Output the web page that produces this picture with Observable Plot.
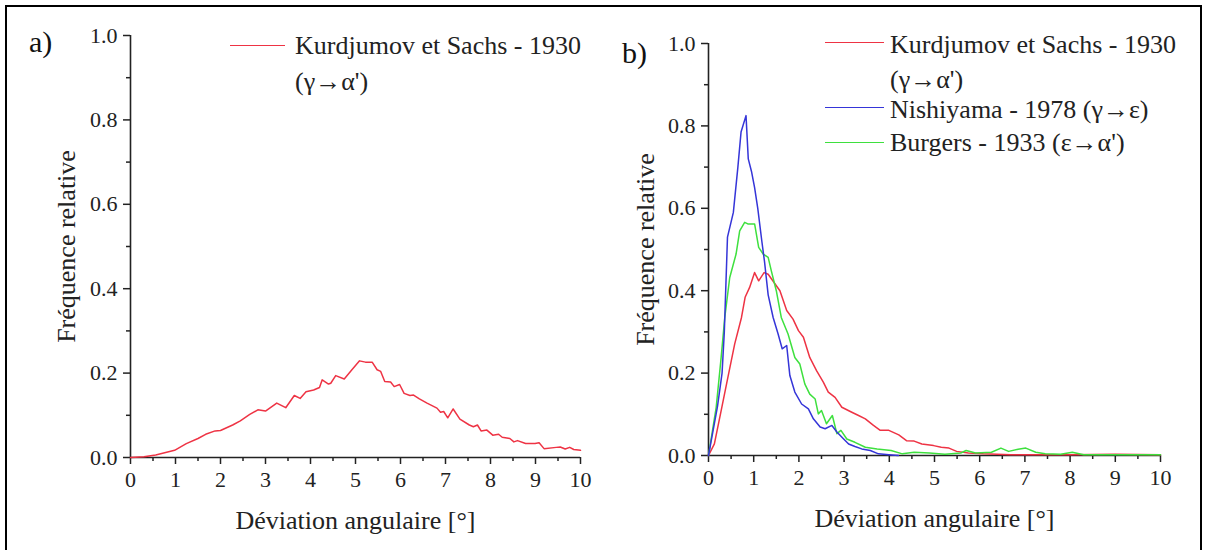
<!DOCTYPE html>
<html><head><meta charset="utf-8">
<script src="https://cdn.jsdelivr.net/npm/d3@7"></script>
<script src="https://cdn.jsdelivr.net/npm/@observablehq/plot@0.6"></script>
<style>
html,body{margin:0;padding:0;background:#fff;}
#wrap{position:relative;width:1210px;height:550px;overflow:hidden;font-family:"Liberation Serif",Tinos,"Times New Roman",Times,"DejaVu Serif",serif;color:#222;}
#frame{position:absolute;left:5px;top:5px;width:1197px;height:600px;border:2.5px solid #000;box-sizing:border-box;}
.panel{position:absolute;top:0;}
.txt{position:absolute;white-space:nowrap;line-height:1;font-size:26px;color:#222;}
.tag{position:absolute;white-space:nowrap;line-height:1;font-size:30px;color:#111;}
.sw{position:absolute;height:0;border-top:1.6px solid;}
</style></head>
<body>
<div id="wrap"><div id="frame"></div></div>
<script>
// ---- data ----
const ksA_x = [0,0.3,0.56,0.98,1.24,1.5,1.67,1.88,2.0,2.27,2.44,2.65,2.83,3.0,3.25,3.45,3.64,3.77,3.9,4.07,4.2,4.26,4.4,4.45,4.56,4.75,4.92,5.09,5.22,5.37,5.48,5.56,5.65,5.78,5.86,5.98,6.08,6.21,6.29,6.42,6.59,6.81,6.89,6.96,7.05,7.17,7.32,7.53,7.62,7.71,7.79,7.92,8.05,8.18,8.26,8.43,8.52,8.6,8.78,8.99,9.08,9.19,9.46,9.55,9.66,9.76,9.85,10];
const ksA_y = [0,0.002,0.006,0.017,0.033,0.045,0.055,0.063,0.064,0.077,0.087,0.102,0.113,0.110,0.129,0.118,0.147,0.140,0.156,0.160,0.166,0.184,0.174,0.176,0.194,0.186,0.208,0.229,0.226,0.226,0.208,0.204,0.180,0.179,0.168,0.173,0.152,0.147,0.148,0.139,0.129,0.117,0.107,0.109,0.094,0.115,0.091,0.077,0.073,0.077,0.063,0.065,0.053,0.055,0.048,0.045,0.037,0.040,0.033,0.033,0.035,0.021,0.024,0.025,0.020,0.024,0.019,0.017];

const ksB_x = [0,0.13,0.28,0.43,0.58,0.73,0.81,0.91,1.02,1.11,1.23,1.32,1.45,1.58,1.73,1.87,1.99,2.1,2.24,2.39,2.54,2.65,2.8,2.95,3.17,3.32,3.47,3.65,3.8,3.99,4.21,4.38,4.55,4.72,4.98,5.15,5.32,5.49,5.75,6.08,6.68,8.0,9.0,10];
const ksB_y = [0,0.028,0.109,0.19,0.271,0.335,0.384,0.408,0.444,0.424,0.444,0.44,0.42,0.40,0.352,0.331,0.303,0.287,0.238,0.206,0.178,0.154,0.141,0.117,0.105,0.097,0.089,0.073,0.061,0.061,0.050,0.036,0.035,0.028,0.024,0.020,0.018,0.010,0.006,0.004,0.002,0.002,0.003,0.002];

const nishi_x = [0,0.2,0.3,0.35,0.42,0.55,0.65,0.72,0.83,0.88,0.95,1.02,1.09,1.18,1.24,1.32,1.43,1.54,1.63,1.73,1.8,1.91,2.06,2.21,2.32,2.47,2.58,2.73,2.84,2.99,3.1,3.24,3.39,3.58,3.76,3.99,4.2];
const nishi_y = [0,0.12,0.2,0.3,0.53,0.59,0.70,0.785,0.825,0.72,0.69,0.65,0.60,0.52,0.47,0.39,0.335,0.295,0.259,0.267,0.194,0.154,0.125,0.113,0.089,0.069,0.065,0.073,0.057,0.040,0.028,0.022,0.016,0.012,0.004,0.002,0];

const burg_x = [0,0.17,0.28,0.36,0.47,0.61,0.69,0.8,0.87,1.02,1.11,1.21,1.32,1.39,1.5,1.61,1.76,1.91,2.02,2.13,2.24,2.36,2.43,2.5,2.61,2.74,2.84,2.93,3.06,3.24,3.47,3.73,4.04,4.29,4.55,4.89,5.23,5.58,5.7,5.91,6.26,6.47,6.64,6.85,7.02,7.24,7.45,7.79,8.05,8.3,8.82,10];
const burg_y = [0,0.117,0.238,0.335,0.432,0.489,0.545,0.566,0.562,0.562,0.505,0.489,0.481,0.448,0.40,0.335,0.295,0.238,0.222,0.174,0.149,0.137,0.101,0.109,0.077,0.097,0.053,0.061,0.040,0.032,0.020,0.016,0.012,0.004,0.008,0.006,0.003,0.006,0.012,0.006,0.008,0.018,0.010,0.015,0.018,0.008,0.004,0.003,0.008,0.002,0.002,0.002];

const xTicks = [0,1,2,3,4,5,6,7,8,9,10];
const xMinor = [0.5,1.5,2.5,3.5,4.5,5.5,6.5,7.5,8.5,9.5];
const yTicks = [0,0.2,0.4,0.6,0.8,1.0];
const yMinor = [0.1,0.3,0.5,0.7,0.9];
const xTitle = "Déviation angulaire [°]";
const yTitle = "Fréquence relative";
const seriesNames = ["Kurdjumov et Sachs - 1930", "Nishiyama - 1978 (γ→ε)", "Burgers - 1933 (ε→α')"];
const ksSub = "(γ→α')";
const colors = ["#ee3344", "#3535d8", "#3ee03e"];

const FONT = '"Liberation Serif",Tinos,"Times New Roman",Times,"DejaVu Serif",serif';
const toRows = (xs, ys, s) => xs.map((x, i) => ({x, y: ys[i], s}));

function panel(series, m) {
  return Plot.plot({
    width: 605, height: 550,
    marginLeft: m.l, marginRight: m.r, marginTop: m.t, marginBottom: m.b,
    x: {domain: [0, 10]},
    y: {domain: [0, 1]},
    style: {fontFamily: FONT, color: "#222", background: "transparent", overflow: "visible"},
    marks: [
      Plot.axisX({ticks: xTicks, tickSize: 7, tickPadding: 7, tickFormat: d => String(d), fontSize: 22, fontFamily: FONT, label: null, strokeWidth: 1.5, stroke: "#222"}),
      Plot.axisX({ticks: xMinor, tickSize: 4, tickFormat: () => "", label: null, strokeWidth: 1.5, stroke: "#222"}),
      Plot.axisY({ticks: yTicks, tickSize: 7, tickPadding: 6, tickFormat: d3.format(".1f"), fontSize: 22, fontFamily: FONT, label: null, strokeWidth: 1.5, stroke: "#222"}),
      Plot.axisY({ticks: yMinor, tickSize: 4, tickFormat: () => "", label: null, strokeWidth: 1.5, stroke: "#222"}),
      Plot.ruleX([0], {stroke: "#222", strokeWidth: 1.6}),
      Plot.ruleY([0], {stroke: "#222", strokeWidth: 1.6}),
      ...series.map(sr => Plot.line(sr.rows, {x: "x", y: "y", stroke: sr.color, strokeWidth: 1.5})),
      Plot.text([yTitle], {frameAnchor: "left", textAnchor: "middle", lineAnchor: "middle", rotate: -90, dx: -m.yt, fontSize: 26, fontFamily: FONT, fill: "#222"}),
      Plot.text([xTitle], {frameAnchor: "bottom", textAnchor: "middle", lineAnchor: "middle", dy: m.xt, fontSize: 26, fontFamily: FONT, fill: "#222"})
    ]
  });
}

const wrap = document.getElementById("wrap");

const pa = panel([{rows: toRows(ksA_x, ksA_y, seriesNames[0]), color: colors[0]}], {l: 130, r: 25, t: 35, b: 93, yt: 64, xt: 63});
pa.classList.add("panel"); pa.style.left = "0px";
wrap.appendChild(pa);

const pb = panel([
  {rows: toRows(ksB_x, ksB_y, seriesNames[0]), color: colors[0]},
  {rows: toRows(burg_x, burg_y, seriesNames[2]), color: colors[2]},
  {rows: toRows(nishi_x, nishi_y, seriesNames[1]), color: colors[1]}
], {l: 103, r: 50, t: 43, b: 95, yt: 63, xt: 63});
pb.classList.add("panel"); pb.style.left = "605px";
wrap.appendChild(pb);

function addText(cls, text, left, top) {
  const d = document.createElement("div");
  d.className = cls; d.textContent = text;
  d.style.left = left + "px"; d.style.top = top + "px";
  wrap.appendChild(d);
}
function addSwatch(color, left, y, w) {
  const d = document.createElement("div");
  d.className = "sw"; d.style.borderTopColor = color;
  d.style.left = left + "px"; d.style.top = (y - 0.8) + "px"; d.style.width = w + "px";
  wrap.appendChild(d);
}

// panel labels
addText("tag", "a)", 29, 27);
addText("tag", "b)", 622, 38);

// legend a
addSwatch(colors[0], 230, 46, 55);
addText("txt", seriesNames[0], 295, 33);
addText("txt", ksSub, 295, 69);

// legend b
addSwatch(colors[0], 825, 43, 59);
addText("txt", seriesNames[0], 890, 32);
addText("txt", ksSub, 890, 67);
addSwatch(colors[1], 825, 108, 59);
addText("txt", seriesNames[1], 890, 97);
addSwatch(colors[2], 825, 143, 59);
addText("txt", seriesNames[2], 890, 130);
</script>
</body></html>
